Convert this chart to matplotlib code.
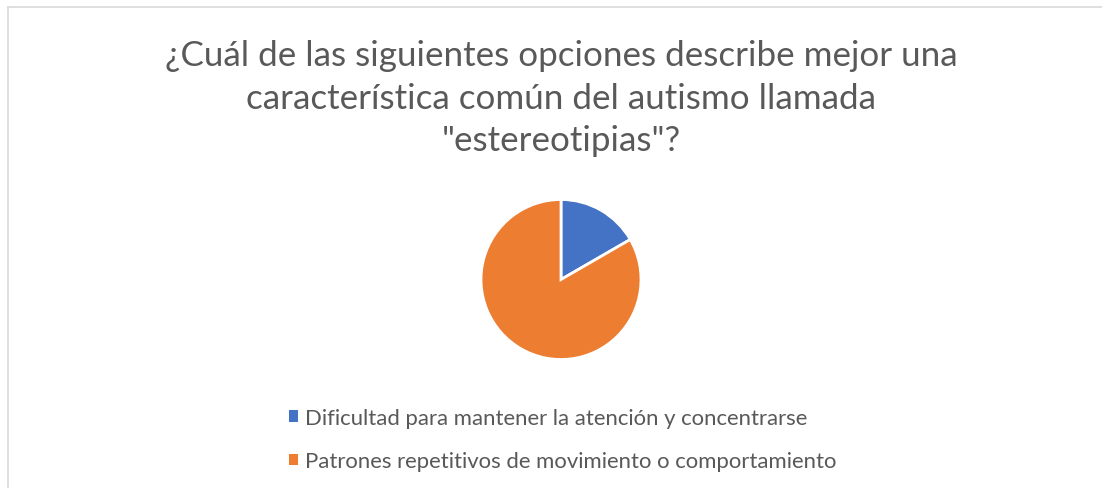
import matplotlib.pyplot as plt
from matplotlib.lines import Line2D

# data
labels = ["Dificultad para mantener la atención y concentrarse",
          "Patrones repetitivos de movimiento o comportamiento"]
values = [1, 5]
colors = ["#4472C4", "#ED7D31"]
title = ('¿Cuál de las siguientes opciones describe mejor una\n'
         'característica común del autismo llamada\n'
         '"estereotipias"?')

W, H = 1102, 489
fig = plt.figure(figsize=(W / 100, H / 100), dpi=100)
renderer = fig.canvas.get_renderer()
font = "Lato"
gray = "#595959"

# chart border (top and left visible)
fig.add_artist(Line2D([8 / W, 8 / W], [0, 1 - 8 / H], color="#D9D9D9", lw=1.2))
fig.add_artist(Line2D([8 / W, 1], [1 - 8 / H, 1 - 8 / H], color="#D9D9D9", lw=1.2))

# title, fitted to the reference width
t = fig.text(561 / W, 1 - 40 / H, title, ha="center", va="top", fontsize=22,
             color=gray, family=font, linespacing=1.41, multialignment="center")
w = t.get_window_extent(renderer).width
t.set_fontsize(22 * 788 / w)

# pie
r = 80
ax = fig.add_axes([(561 - r) / W, (H - 280.5 - r) / H, 2 * r / W, 2 * r / H])
wedges, _ = ax.pie(values, colors=colors, startangle=90, counterclock=False,
                   wedgeprops=dict(edgecolor="white", linewidth=2))
ax.set_xlim(-1, 1)
ax.set_ylim(-1, 1)
ax.set_aspect("equal")

# legend font fitted to the reference width
tmp = fig.text(0, 0, labels[1], fontsize=14, family=font)
lw = tmp.get_window_extent(renderer).width
fs = 14 * 535 / lw
tmp.remove()

leg = fig.legend(wedges, labels, loc="upper left",
                 bbox_to_anchor=(289 / W, 1 - 409 / H), frameon=False,
                 prop=dict(family=font, size=fs), labelcolor=gray,
                 handlelength=0.42, handleheight=0.42, handletextpad=0.3,
                 labelspacing=1.05, borderpad=0, borderaxespad=0)
for h in leg.legend_handles:
    h.set_edgecolor("none")

fig.savefig("out.png", dpi=100)
